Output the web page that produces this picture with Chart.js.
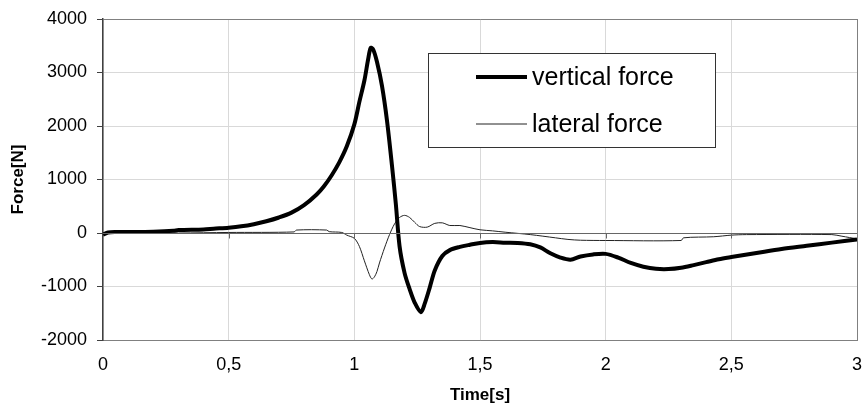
<!DOCTYPE html>
<html>
<head>
<meta charset="utf-8">
<script src="https://cdn.jsdelivr.net/npm/chart.js@4.4.1/dist/chart.umd.min.js"></script>
<style>
  html, body { margin: 0; padding: 0; background: #fff; }
  #wrap { width: 866px; height: 410px; }
</style>
</head>
<body>
<div id="wrap"><canvas id="chartFuerzas"></canvas></div>
<script>
// tiempos y valores
const tiemposVertical = [0.00, 0.02, 0.05, 0.10, 0.20, 0.28, 0.30, 0.40, 0.44, 0.50, 0.55, 0.60, 0.65, 0.70, 0.75, 0.80, 0.85, 0.88, 0.91, 0.94, 0.97, 1.00, 1.02, 1.04, 1.055, 1.065, 1.075, 1.09, 1.11, 1.13, 1.15, 1.165, 1.18, 1.20, 1.22, 1.24, 1.265, 1.28, 1.30, 1.32, 1.35, 1.38, 1.42, 1.46, 1.50, 1.55, 1.60, 1.65, 1.70, 1.74, 1.78, 1.82, 1.86, 1.90, 1.95, 2.00, 2.05, 2.10, 2.15, 2.20, 2.25, 2.30, 2.35, 2.40, 2.45, 2.50, 2.60, 2.70, 2.80, 2.90, 3.00];
const fuerzaVertical = [-30, 10, 20, 20, 25, 40, 55, 65, 80, 100, 125, 165, 220, 290, 380, 520, 720, 880, 1080, 1320, 1620, 2030, 2450, 2850, 3250, 3460, 3430, 3200, 2750, 2100, 1250, 550, -250, -750, -1050, -1300, -1480, -1320, -1020, -700, -430, -320, -260, -220, -185, -170, -180, -185, -210, -270, -380, -460, -500, -440, -400, -390, -460, -560, -630, -670, -675, -650, -600, -545, -490, -450, -375, -300, -240, -180, -120];

const tiemposLateral = [0.00, 0.30, 0.50, 0.76, 0.77, 0.89, 0.90, 0.95, 0.97, 1.00, 1.02, 1.04, 1.06, 1.07, 1.08, 1.09, 1.10, 1.12, 1.14, 1.16, 1.18, 1.20, 1.22, 1.24, 1.26, 1.29, 1.32, 1.35, 1.38, 1.42, 1.46, 1.50, 1.55, 1.60, 1.70, 1.80, 1.85, 1.90, 2.00, 2.30, 2.31, 2.43, 2.50, 2.56, 2.90, 2.94, 3.00];
const fuerzaLateral = [0, 0, 10, 20, 55, 55, 25, 10, -40, -100, -250, -520, -780, -860, -820, -720, -560, -280, -30, 170, 290, 330, 290, 200, 120, 110, 180, 190, 140, 140, 100, 60, 40, 15, -30, -90, -120, -135, -140, -140, -90, -70, -40, -30, -30, -60, -110];

const etiquetasSeries = ['vertical force', 'lateral force'];
const etiquetasTiempo = ['0', '0,5', '1', '1,5', '2', '2,5', '3'];
const etiquetasFuerza = ['-2000', '-1000', '0', '1000', '2000', '3000', '4000'];

const fuente = "'Liberation Sans', Arial, sans-serif";

function aPuntos(xs, ys) {
    return xs.map(function (x, i) { return { x: x, y: ys[i] }; });
}

// leyenda dentro del area de la grafica, como en Excel
const leyendaCaja = {
    id: 'leyendaCaja',
    afterDraw: function (chart) {
        const ctx = chart.ctx;
        const area = chart.chartArea;
        const x0 = area.left + 325;
        const y0 = area.top + 34;
        const w = 287;
        const h = 94;
        ctx.save();
        ctx.fillStyle = '#fff';
        ctx.fillRect(x0, y0, w, h);
        ctx.strokeStyle = '#333';
        ctx.lineWidth = 1;
        ctx.strokeRect(x0 + 0.5, y0 + 0.5, w, h);
        ctx.font = '25px ' + fuente;
        ctx.textBaseline = 'middle';
        ctx.fillStyle = '#000';
        chart.data.datasets.forEach(function (ds, i) {
            const yy = y0 + 24 + i * 47;
            ctx.strokeStyle = ds.borderColor;
            ctx.lineWidth = ds.borderWidth;
            ctx.beginPath();
            ctx.moveTo(x0 + 48, yy);
            ctx.lineTo(x0 + 99, yy);
            ctx.stroke();
            ctx.fillText(ds.label, x0 + 104, yy + 1);
        });
        ctx.restore();
    }
};

// marcas del eje horizontal sobre la linea del cero
const marcasCero = {
    id: 'marcasCero',
    afterDatasetsDraw: function (chart) {
        const ctx = chart.ctx;
        const sx = chart.scales.x;
        const y = Math.round(chart.scales.y.getPixelForValue(0)) + 0.5;
        ctx.save();
        ctx.strokeStyle = '#666';
        ctx.lineWidth = 1;
        ctx.beginPath();
        ctx.moveTo(chart.chartArea.left, y);
        ctx.lineTo(chart.chartArea.right, y);
        for (let v = 0.5; v < 3; v += 0.5) {
            const x = Math.round(sx.getPixelForValue(v)) + 0.5;
            ctx.moveTo(x, y);
            ctx.lineTo(x, y + 5);
        }
        ctx.stroke();
        ctx.restore();
    }
};

const ctx = document.getElementById('chartFuerzas').getContext('2d');

window.graficaFuerzas = new Chart(ctx, {
    type: 'line',
    data: {
        datasets: [{
            label: etiquetasSeries[0],
            data: aPuntos(tiemposVertical, fuerzaVertical),
            borderColor: '#000',
            borderWidth: 4,
            pointRadius: 0,
            tension: 0.3,
            order: 1
        }, {
            label: etiquetasSeries[1],
            data: aPuntos(tiemposLateral, fuerzaLateral),
            borderColor: '#222',
            borderWidth: 1,
            pointRadius: 0,
            tension: 0.3,
            order: 2
        }]
    },
    options: {
        responsive: true,
        maintainAspectRatio: false,
        animation: false,
        layout: { padding: { top: 19, right: 9, left: 0, bottom: 0 } },
        scales: {
            x: {
                type: 'linear',
                min: 0,
                max: 3,
                afterBuildTicks: function (scale) {
                    scale.ticks = etiquetasTiempo.map(function (_, i) { return { value: i * 0.5 }; });
                },
                afterFit: function (scale) {
                    scale.height = 70;
                    scale.paddingLeft = 0;
                    scale.paddingRight = 0;
                },
                ticks: {
                    color: '#000',
                    font: { family: fuente, size: 18 },
                    padding: 14,
                    maxRotation: 0,
                    callback: function (value, index) { return etiquetasTiempo[index]; }
                },
                grid: {
                    drawTicks: false,
                    color: function (c) { return c.tick && c.tick.value === 3 ? '#808080' : '#d9d9d9'; }
                },
                border: { color: '#808080', width: 1 },
                title: {
                    display: true,
                    text: 'Time[s]',
                    color: '#000',
                    font: { family: fuente, size: 17, weight: 'bold' },
                    padding: { top: 6 }
                }
            },
            y: {
                min: -2000,
                max: 4000,
                afterBuildTicks: function (scale) {
                    scale.ticks = etiquetasFuerza.map(function (t) { return { value: Number(t) }; });
                },
                afterFit: function (scale) {
                    scale.width = 103;
                    scale.paddingTop = 0;
                    scale.paddingBottom = 0;
                },
                ticks: {
                    color: '#000',
                    font: { family: fuente, size: 18 },
                    padding: 10,
                    callback: function (value, index) { return etiquetasFuerza[index]; }
                },
                grid: {
                    tickLength: 6,
                    tickColor: '#404040',
                    color: function (c) {
                        if (!c.tick) return '#d9d9d9';
                        return (c.tick.value === 4000 || c.tick.value === -2000) ? '#808080' : '#d9d9d9';
                    }
                },
                border: { color: '#404040', width: 1.5 },
                title: {
                    display: true,
                    text: 'Force[N]',
                    color: '#000',
                    font: { family: fuente, size: 17, weight: 'bold' },
                    padding: { top: 8, bottom: 0 }
                }
            }
        },
        plugins: {
            legend: { display: false },
            tooltip: { enabled: false }
        }
    },
    plugins: [marcasCero, leyendaCaja]
});
</script>
</body>
</html>
